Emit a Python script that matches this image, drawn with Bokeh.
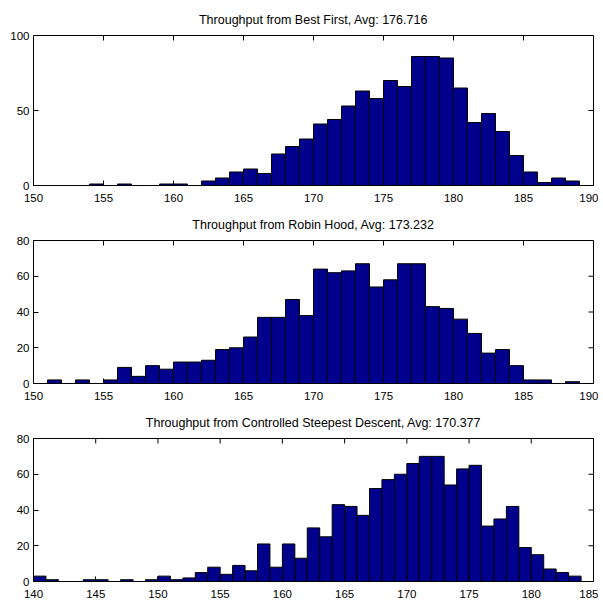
import math
from bokeh.plotting import figure
from bokeh.layouts import column
from bokeh.models import Range1d, FixedTicker
from bokeh.embed import file_html
from bokeh.resources import INLINE

# ---- data (bin left edges, counts) ----
titles = [
    "Throughput from Best First, Avg: 176.716",
    "Throughput from Robin Hood, Avg: 173.232",
    "Throughput from Controlled Steepest Descent, Avg: 170.377",
]

bins1 = list(range(154, 189))
counts1 = [1, 0, 1, 0, 0, 1, 1, 0, 3, 5, 9, 11, 8, 21, 26, 31, 41, 44, 53, 63,
           58, 70, 66, 86, 86, 85, 65, 42, 48, 36, 20, 9, 2, 5, 3]

bins2 = list(range(151, 189))
counts2 = [2, 0, 2, 0, 2, 9, 4, 10, 8, 12, 12, 13, 19, 20, 26, 37, 37, 47, 38, 64,
           62, 63, 67, 54, 58, 67, 67, 43, 42, 36, 28, 17, 19, 10, 2, 2, 0, 1]

bins3 = list(range(140, 184))
counts3 = [3, 1, 0, 0, 1, 1, 0, 1, 0, 1, 3, 1, 2, 5, 8, 4, 9, 6, 21, 8, 21, 13,
           30, 25, 43, 42, 37, 52, 57, 60, 66, 70, 70, 54, 63, 65, 31, 35, 42, 19,
           15, 7, 5, 3]

xlims = [(150, 190), (150, 190), (140, 185)]
ylims = [(0, 100), (0, 80), (0, 80)]
xticks = [list(range(150, 191, 5)), list(range(150, 191, 5)), list(range(140, 186, 5))]
yticks = [[0, 50, 100], [0, 20, 40, 60, 80], [0, 20, 40, 60, 80]]

all_bins = [bins1, bins2, bins3]
all_counts = [counts1, counts2, counts3]

FONT = "Liberation Sans"
BAR = "#00008C"
TICK = 5

figs = []
for i in range(3):
    top_border = 35 if i == 0 else 27
    p = figure(width=598, height=150 + top_border + 21,
               output_backend="svg", toolbar_location=None,
               x_range=Range1d(*xlims[i]), y_range=Range1d(*ylims[i]),
               min_border_left=33, min_border_right=5, min_border_top=top_border,
               min_border_bottom=21, title=titles[i])
    p.title.align = "center"
    p.title.text_font = FONT
    p.title.text_font_size = "12.5px"
    p.title.text_font_style = "normal"
    p.title.text_color = "black"
    p.title.standoff = 18

    centers = [b + 0.5 for b in all_bins[i]]
    p.vbar(x=centers, top=all_counts[i], width=1, bottom=0,
           fill_color=BAR, line_color="black", line_width=1)

    p.xgrid.visible = False
    p.ygrid.visible = False
    p.outline_line_color = "black"
    p.outline_line_width = 1
    p.background_fill_color = "white"

    for ax, ticks in ((p.xaxis[0], xticks[i]), (p.yaxis[0], yticks[i])):
        ax.ticker = FixedTicker(ticks=ticks)
        ax.major_tick_in = TICK
        ax.major_tick_out = 0
        ax.minor_tick_line_color = None
        ax.axis_line_color = "black"
        ax.major_tick_line_color = "black"
        ax.major_label_text_font = FONT
        ax.major_label_text_font_size = "11.5px"
        ax.major_label_text_color = "black"
    p.xaxis[0].major_label_standoff = 8
    p.yaxis[0].major_label_standoff = 4

    # ticks on the top and right edges of the box
    xt = xticks[i]
    yt = yticks[i]
    p.ray(x=xt, y=[ylims[i][1]] * len(xt), length=TICK, length_units="screen",
          angle=-math.pi / 2, line_color="black", line_width=1)
    p.ray(x=[xlims[i][1]] * len(yt), y=yt, length=TICK, length_units="screen",
          angle=math.pi, line_color="black", line_width=1)
    figs.append(p)

layout = column(*figs, spacing=0)
open("out.html", "w").write(file_html(layout, INLINE))
